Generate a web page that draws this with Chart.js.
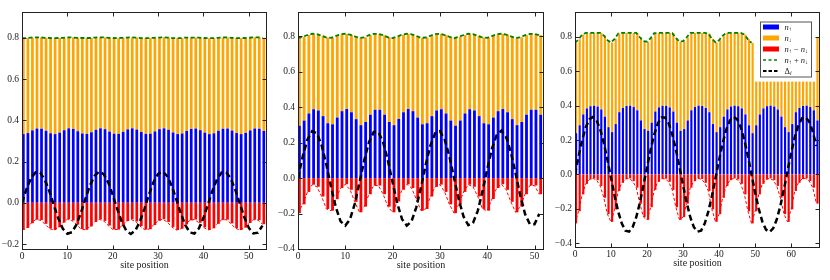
<!DOCTYPE html>
<html>
<head>
<meta charset="utf-8">
<script src="https://cdn.jsdelivr.net/npm/chart.js@4.4.1/dist/chart.umd.min.js"></script>
<style>
html, body { margin: 0; padding: 0; background: #fff; }
#wrap { position: relative; width: 830px; height: 280px; overflow: hidden; }
.panel { position: absolute; top: 0; height: 280px; }
</style>
</head>
<body>
<div id="wrap">
  <div class="panel" id="p1"><canvas id="c1"></canvas></div>
  <div class="panel" id="p2"><canvas id="c2"></canvas></div>
  <div class="panel" id="p3"><canvas id="c3"></canvas></div>
</div>
<script>
// tick labels
const xTicks1 = [0, 10, 20, 30, 40, 50];
const xTicks2 = [0, 10, 20, 30, 40, 50];
const xTicks3 = [0, 10, 20, 30, 40, 50, 60];
const yTicks1 = [-0.2, 0.0, 0.2, 0.4, 0.6, 0.8];
const yTicks2 = [-0.4, -0.2, 0.0, 0.2, 0.4, 0.6, 0.8];
const yTicks3 = [-0.4, -0.2, 0.0, 0.2, 0.4, 0.6, 0.8];

// panel 1 : 54 sites
const nUp1 = [
  .333, .338, .351, .360, .359, .349, .337, .333, .340, .352,
  .361, .358, .347, .336, .334, .342, .354, .361, .357, .345,
  .335, .334, .344, .356, .361, .355, .343, .334, .335, .346,
  .357, .361, .354, .341, .333, .336, .348, .358, .360, .352,
  .340, .333, .337, .349, .359, .360, .350, .338, .333, .339,
  .351, .360, .359, .348
];
const nDown1 = [
  .465, .460, .450, .442, .443, .451, .462, .465, .459, .448,
  .441, .444, .453, .463, .465, .457, .447, .441, .445, .455,
  .464, .464, .456, .445, .441, .446, .456, .464, .463, .454,
  .444, .441, .447, .458, .465, .462, .453, .443, .441, .449,
  .459, .465, .461, .451, .442, .442, .450, .461, .465, .460,
  .449, .442, .443, .452
];
const delta1 = [
  0, .067, .120, .148, .146, .113, .058, -.010, -.076, -.126,
  -.150, -.143, -.106, -.048, .021, .085, .131, .151, .139, .099,
  .038, -.031, -.093, -.136, -.151, -.134, -.090, -.028, .041, .101,
  .140, .151, .130, .082, .017, -.051, -.109, -.144, -.149, -.124,
  -.073, -.007, .060, .115, .147, .148, .118, .064, -.003, -.070,
  -.122, -.149, -.145, -.111
];

// panel 2 : 52 sites
const nUp2 = [
  .296, .325, .365, .389, .382, .350, .310, .304, .342, .378,
  .390, .372, .333, .299, .317, .358, .386, .386, .358, .317,
  .299, .334, .372, .390, .378, .342, .304, .310, .350, .382,
  .389, .365, .325, .296, .325, .365, .389, .382, .350, .310,
  .304, .342, .378, .390, .372, .333, .299, .317, .358, .386,
  .386, .358
];
const nDown2 = [
  .494, .473, .443, .426, .431, .454, .484, .488, .461, .434,
  .425, .438, .467, .492, .478, .449, .428, .428, .449, .478,
  .492, .466, .438, .425, .434, .461, .488, .484, .454, .431,
  .426, .443, .473, .494, .473, .443, .426, .431, .454, .484,
  .488, .460, .434, .425, .438, .467, .492, .478, .449, .428,
  .428, .449
];
const delta2 = [
  0, .123, .218, .265, .253, .185, .075, -.051, -.165, -.244,
  -.268, -.232, -.145, -.025, .100, .203, .260, .260, .202, .100,
  -.025, -.145, -.232, -.268, -.244, -.165, -.051, .076, .185, .253,
  .265, .218, .123, 0, -.123, -.218, -.265, -.253, -.185, -.075,
  .051, .166, .244, .268, .232, .145, .025, -.100, -.203, -.260,
  -.260, -.202
];

// panel 3 : 68 sites
const nUp3 = [
  .240, .286, .349, .384, .397, .400, .395, .378, .336, .275,
  .246, .293, .362, .387, .398, .400, .392, .373, .314, .264,
  .254, .301, .366, .390, .399, .399, .390, .366, .301, .254,
  .264, .314, .373, .392, .400, .398, .387, .362, .293, .246,
  .275, .336, .378, .395, .400, .397, .384, .349, .286, .240,
  .286, .349, .384, .397, .400, .395, .378, .336, .275, .246,
  .293, .362, .387, .398, .400, .392, .373, .314
];
const nDown3 = [
  .525, .500, .465, .439, .426, .423, .428, .445, .472, .506,
  .522, .496, .458, .436, .425, .423, .431, .450, .484, .512,
  .518, .492, .456, .433, .424, .424, .433, .456, .492, .518,
  .512, .484, .450, .431, .423, .425, .436, .458, .496, .522,
  .506, .472, .445, .428, .423, .426, .439, .465, .500, .525,
  .500, .465, .439, .426, .423, .428, .445, .472, .506, .522,
  .496, .458, .436, .425, .423, .431, .450, .484
];
const delta3 = [
  0, .106, .200, .275, .321, .335, .314, .262, .183, .085,
  -.021, -.126, -.217, -.286, -.327, -.333, -.307, -.249, -.165, -.064,
  .043, .145, .233, .297, .331, .331, .297, .233, .145, .043,
  -.064, -.165, -.249, -.307, -.333, -.327, -.286, -.217, -.126, -.021,
  .085, .183, .262, .314, .335, .321, .275, .200, .106, 0,
  -.106, -.200, -.275, -.321, -.335, -.314, -.262, -.183, -.085, .021,
  .126, .217, .286, .327, .333, .307, .249, .165
];
// sites of panel 3 whose orange bars stop at a flat top and have no sum line
const hidden3 = [50, 66];
const hiddenTop3 = 0.54;

// legend labels (parts: text, style)
const legendLabels = [
  [['n', 'it'], ['↑', 'sub']],
  [['n', 'it'], ['↓', 'sub']],
  [['n', 'it'], ['↑', 'sub'], [' − ', ''], ['n', 'it'], ['↓', 'sub']],
  [['n', 'it'], ['↑', 'sub'], [' + ', ''], ['n', 'it'], ['↓', 'sub']],
  [['Δ', ''], ['i', 'itsub']]
];

const BLUE = '#0000ff', ORANGE = '#ffa500', RED = '#ff0000', GREEN = '#008000', BLACK = '#000000';
const SERIF = '"Liberation Serif", "DejaVu Serif", serif';
const BAR_W = 0.6;
const YW = 22, RP = 4;

const panels = [
  { id: 'p1', canvas: 'c1', up: nUp1, down: nDown1, delta: delta1, xMax: 54, yMin: -0.229, yMax: 0.925,
    xTicks: xTicks1, yTicks: yTicks1, box: { left: 22, right: 267, top: 12, bottom: 250 } },
  { id: 'p2', canvas: 'c2', up: nUp2, down: nDown2, delta: delta2, xMax: 52, yMin: -0.406, yMax: 0.938,
    xTicks: xTicks2, yTicks: yTicks2, box: { left: 298, right: 544, top: 12, bottom: 250 } },
  { id: 'p3', canvas: 'c3', up: nUp3, down: nDown3, delta: delta3, xMax: 68, yMin: -0.428, yMax: 0.945,
    xTicks: xTicks3, yTicks: yTicks3, box: { left: 575, right: 820, top: 12, bottom: 248 },
    hidden: hidden3, hiddenTop: hiddenTop3, legend: true }
];

// frame + inward ticks on all four sides, like the matplotlib axes
const framePlugin = {
  id: 'frame',
  afterDatasetsDraw(chart) {
    const { ctx, chartArea: a, scales } = chart;
    ctx.save();
    ctx.strokeStyle = '#222';
    ctx.lineWidth = 1;
    const L = a.left + 0.5, R = a.right - 0.5, T = a.top + 0.5, B = a.bottom - 0.5;
    ctx.strokeRect(L, T, R - L, B - T);
    ctx.beginPath();
    scales.x.ticks.forEach(t => {
      const px = Math.round(scales.x.getPixelForValue(t.value)) + 0.5;
      ctx.moveTo(px, B); ctx.lineTo(px, B - 4);
      ctx.moveTo(px, T); ctx.lineTo(px, T + 4);
    });
    scales.y.ticks.forEach(t => {
      const py = Math.round(scales.y.getPixelForValue(t.value)) + 0.5;
      ctx.moveTo(L, py); ctx.lineTo(L + 4, py);
      ctx.moveTo(R, py); ctx.lineTo(R - 4, py);
    });
    ctx.stroke();
    ctx.restore();
  },
  afterDraw(chart) {
    if (!chart.options.plugins.frame || !chart.options.plugins.frame.legend) return;
    const { ctx, chartArea: a } = chart;
    const ds = chart.data.datasets;
    const items = [
      { kind: 'patch', color: ds[4].backgroundColor },
      { kind: 'patch', color: ds[5].backgroundColor },
      { kind: 'patch', color: ds[3].backgroundColor },
      { kind: 'line', color: ds[1].borderColor, dash: [3, 2.5], width: 1.5 },
      { kind: 'line', color: ds[0].borderColor, dash: [3.5, 2], width: 2.2 }
    ];
    const bx = a.right - 60, by = a.top + 9.5, bw = 51, bh = 55;
    ctx.save();
    ctx.fillStyle = '#fff';
    ctx.fillRect(bx, by, bw, bh);
    ctx.strokeStyle = '#555';
    ctx.lineWidth = 1;
    ctx.strokeRect(bx + 0.5, by + 0.5, bw, bh);
    items.forEach((it, k) => {
      const cy = by + 5.5 + k * 11;
      const hx = bx + 3;
      if (it.kind === 'patch') {
        ctx.fillStyle = it.color;
        ctx.fillRect(hx, cy - 2.5, 16, 5);
      } else {
        ctx.strokeStyle = it.color;
        ctx.lineWidth = it.width;
        ctx.setLineDash(it.dash);
        ctx.beginPath();
        ctx.moveTo(hx, cy); ctx.lineTo(hx + 16, cy);
        ctx.stroke();
        ctx.setLineDash([]);
      }
      let tx = bx + 24.5;
      ctx.fillStyle = '#222';
      ctx.textBaseline = 'alphabetic';
      legendLabels[k].forEach(([txt, st]) => {
        const sub = st === 'sub' || st === 'itsub';
        const italic = st === 'it' || st === 'itsub';
        ctx.font = (italic ? 'italic ' : '') + (sub ? '6px ' : '8.5px ') + SERIF;
        ctx.fillText(txt, tx, cy + 2.5 + (sub ? 1.8 : 0));
        tx += ctx.measureText(txt).width;
      });
    });
    ctx.restore();
  }
};

function fmtY(v) {
  return (v < 0 ? '−' : '') + Math.abs(v).toFixed(1);
}

function makeChart(p) {
  const el = document.getElementById(p.id);
  el.style.left = (p.box.left - YW) + 'px';
  el.style.width = (p.box.right - p.box.left + YW + RP) + 'px';

  const sites = p.up.map((_, i) => i);
  const isHidden = i => p.hidden && i >= p.hidden[0] && i <= p.hidden[1];
  const sum = sites.map(i => p.up[i] + p.down[i]);
  const diff = sites.map(i => p.up[i] - p.down[i]);

  const bar = { type: 'bar', xAxisID: 'xb', grouped: false, barPercentage: BAR_W,
    categoryPercentage: 1, borderWidth: 0, inflateAmount: 0 };
  const line = { type: 'line', xAxisID: 'x', pointRadius: 0, tension: 0, fill: false, spanGaps: false };

  const datasets = [
    Object.assign({}, line, { label: 'delta', order: 0, borderColor: BLACK, borderWidth: 2.5,
      borderDash: [6, 3.5], data: sites.map(i => ({ x: i, y: p.delta[i] })) }),
    Object.assign({}, line, { label: 'sum', order: 1, borderColor: GREEN, borderWidth: 1.8,
      borderDash: [4, 2.5], data: sites.map(i => ({ x: i, y: isHidden(i) ? null : sum[i] })) }),
    Object.assign({}, line, { label: 'diff line', order: 2, borderColor: RED, borderWidth: 1,
      borderDash: [3, 2], data: sites.map(i => ({ x: i, y: diff[i] })) }),
    Object.assign({}, bar, { label: 'diff', order: 3, backgroundColor: RED,
      data: sites.map(i => ({ x: i, y: diff[i] })) }),
    Object.assign({}, bar, { label: 'up', order: 4, backgroundColor: BLUE,
      data: sites.map(i => ({ x: i, y: p.up[i] })) }),
    Object.assign({}, bar, { label: 'down', order: 5, backgroundColor: ORANGE,
      data: sites.map(i => ({ x: i, y: [p.up[i], isHidden(i) ? p.hiddenTop : sum[i]] })) })
  ];

  const titleFont = { family: SERIF, size: 10 };
  const titleCenter = p.box.bottom + 15.5;

  return new Chart(document.getElementById(p.canvas), {
    type: 'bar',
    data: { datasets },
    options: {
      responsive: true,
      maintainAspectRatio: false,
      animation: false,
      devicePixelRatio: 1,
      events: [],
      layout: { padding: { top: p.box.top, right: RP, bottom: 0, left: 0 } },
      plugins: { legend: { display: false }, tooltip: { enabled: false }, frame: { legend: !!p.legend } },
      scales: {
        x: {
          type: 'linear', position: 'bottom', min: 0, max: p.xMax, offset: false,
          grid: { display: false, drawTicks: false },
          border: { display: false },
          afterBuildTicks: s => { s.ticks = p.xTicks.map(v => ({ value: v })); },
          afterFit: s => { s.height = 280 - p.box.bottom; },
          ticks: { autoSkip: false, maxRotation: 0, padding: 1, color: '#222',
            font: { family: SERIF, size: 9.5 }, callback: v => String(v) },
          title: { display: true, text: 'site position', color: '#222', font: titleFont,
            padding: { top: 0, bottom: 280 - titleCenter - 6 } }
        },
        xb: {
          type: 'linear', position: 'bottom', display: false, offset: false,
          min: -BAR_W / 2, max: p.xMax - BAR_W / 2,
          afterBuildTicks: s => { s.ticks = sites.map(v => ({ value: v })); }
        },
        y: {
          type: 'linear', position: 'left', min: p.yMin, max: p.yMax,
          grid: { display: false, drawTicks: false },
          border: { display: false },
          afterBuildTicks: s => { s.ticks = p.yTicks.map(v => ({ value: v })); },
          afterFit: s => { s.width = YW; },
          ticks: { padding: 3, color: '#222', font: { family: SERIF, size: 9.5 }, callback: fmtY }
        }
      }
    },
    plugins: [framePlugin]
  });
}

panels.forEach(makeChart);
</script>
</body>
</html>
